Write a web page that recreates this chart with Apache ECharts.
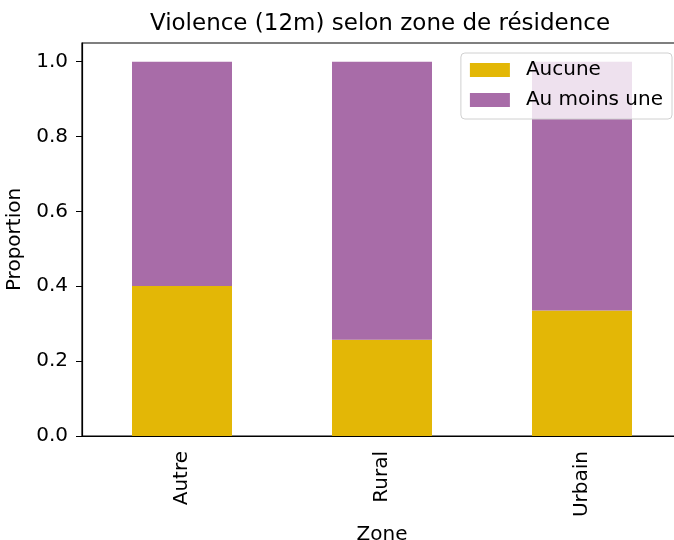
<!DOCTYPE html>
<html>
<head>
<meta charset="utf-8">
<script src="https://cdn.jsdelivr.net/npm/echarts@6/dist/echarts.min.js"></script>
<style>
	html, body { margin: 0; padding: 0; background: #fff; }
	#chart { width: 674px; height: 540px; }
</style>
</head>
<body>
<div id="chart"></div>
<script>
	var zones = ['Autre', 'Rural', 'Urbain'];
	var aucune = [0.401, 0.257, 0.335];
	var auMoinsUne = [0.599, 0.743, 0.665];
	var yTicks = [0, 0.2, 0.4, 0.6, 0.8, 1.0];

	var font = 'DejaVu Sans';
	var chart = echarts.init(document.getElementById('chart'));

	var option = {
		animation: false,
		textStyle: { fontFamily: font },
		title: {
			text: 'Violence (12m) selon zone de résidence',
			left: 375,
			textAlign: 'center',
			top: 8,
			textStyle: { fontFamily: font, fontSize: 23, fontWeight: 'normal', color: '#000' }
		},
		legend: {
			orient: 'vertical',
			right: 2,
			top: 53,
			padding: [7, 9, 9, 9],
			icon: 'rect',
			itemWidth: 40,
			itemHeight: 14,
			itemGap: 10,
			backgroundColor: 'rgba(255,255,255,0.8)',
			borderColor: '#d0d0d0',
			borderWidth: 1,
			borderRadius: 4,
			textStyle: { fontFamily: font, fontSize: 20, color: '#000', padding: [0, 0, 0, 11] },
			data: ['Aucune', 'Au moins une']
		},
		grid: {
			left: 82,
			top: 43,
			width: 600,
			height: 393,
			outerBoundsMode: 'none',
			show: true,
			borderColor: '#000',
			borderWidth: 1.2,
			backgroundColor: 'transparent'
		},
		xAxis: {
			type: 'category',
			data: zones,
			name: 'Zone',
			nameLocation: 'middle',
			nameGap: 86,
			nameTextStyle: { fontFamily: font, fontSize: 20, color: '#000' },
			axisLine: { lineStyle: { color: '#000', width: 1.2 } },
			axisTick: { alignWithLabel: true, length: 6, lineStyle: { color: '#000' } },
			axisLabel: { rotate: 90, margin: 15, fontFamily: font, fontSize: 20, color: '#000' }
		},
		yAxis: {
			type: 'value',
			min: 0,
			max: 1.05,
			name: 'Proportion',
			nameLocation: 'middle',
			nameGap: 55,
			nameTextStyle: { fontFamily: font, fontSize: 20, color: '#000' },
			splitLine: { show: false },
			axisLine: { show: true, lineStyle: { color: '#000', width: 1.2 } },
			axisTick: { show: true, length: 6, customValues: yTicks, lineStyle: { color: '#000' } },
			axisLabel: {
				customValues: yTicks,
				margin: 14,
				fontFamily: font,
				fontSize: 20,
				color: '#000',
				formatter: function (v) { return v.toFixed(1); }
			}
		},
		series: [
			{
				name: 'Aucune',
				type: 'bar',
				stack: 'total',
				barWidth: '50%',
				itemStyle: { color: '#e3b706' },
				data: aucune
			},
			{
				name: 'Au moins une',
				type: 'bar',
				stack: 'total',
				barWidth: '50%',
				itemStyle: { color: '#a86ca8' },
				data: auMoinsUne
			}
		]
	};
	chart.setOption(option);
</script>
</body>
</html>
